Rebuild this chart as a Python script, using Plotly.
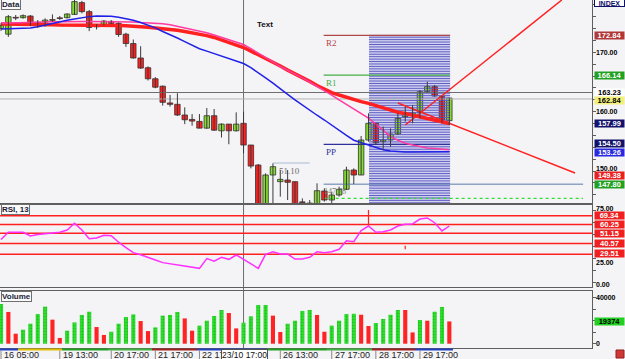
import numpy as np
import plotly.graph_objects as go

W, H = 625, 359

# ---------------- data ----------------
opens = [174.0, 173.05, 175.82, 175.82, 176.10, 174.69, 175.08, 175.42, 175.71, 175.82,
         176.38, 178.36, 176.84, 174.29, 174.58, 175.20, 174.86, 173.05, 171.47, 169.04,
         167.40, 165.54, 164.29, 161.47, 161.24, 159.44, 158.70, 158.36, 157.23, 159.32,
         156.78, 157.91, 156.78, 158.04, 154.39, 151.02, 143.80, 149.34, 148.22, 148.50,
         148.22, 144.80, 144.60, 144.40, 146.65, 145.13, 145.97, 146.93, 150.18, 149.34,
         155.23, 158.04, 154.95, 155.23, 156.24, 159.16, 159.44, 159.83, 163.37, 164.21,
         162.53, 158.49]
highs = [174.9, 176.27, 176.27, 176.38, 176.27, 175.42, 175.71, 176.38, 176.10, 176.55,
         178.81, 178.65, 177.12, 174.75, 175.42, 175.42, 175.03, 173.28, 172.15, 171.02,
         167.63, 165.82, 164.41, 162.82, 163.11, 160.73, 159.60, 159.60, 160.62, 160.45,
         158.02, 157.91, 159.89, 160.00, 154.39, 151.20, 149.62, 151.30, 150.18, 150.18,
         148.22, 145.41, 145.13, 147.94, 147.10, 146.53, 147.38, 150.74, 150.46, 155.91,
         159.72, 158.04, 157.48, 157.20, 159.72, 160.84, 161.12, 163.65, 165.05, 164.49,
         162.64, 162.25]
lows = [173.6, 172.60, 175.42, 175.65, 174.41, 174.12, 174.29, 175.14, 175.42, 175.71,
        176.27, 176.55, 173.56, 173.84, 174.52, 174.75, 172.60, 170.90, 168.93, 167.23,
        165.25, 163.95, 161.02, 160.85, 159.27, 157.91, 157.63, 157.20, 157.12, 156.78,
        155.65, 154.52, 156.67, 152.99, 150.46, 143.00, 143.50, 144.20, 145.69, 145.13,
        143.80, 144.20, 144.20, 144.20, 144.85, 144.57, 145.69, 146.81, 147.82, 149.34,
        154.95, 154.39, 153.55, 154.11, 156.07, 158.32, 158.04, 158.88, 163.26, 162.53,
        158.04, 157.76]
closes = [174.5, 175.99, 175.76, 176.16, 174.75, 175.03, 175.42, 175.38, 175.68, 176.44,
          178.53, 176.84, 174.18, 174.58, 175.25, 174.86, 172.99, 171.47, 169.04, 167.34,
          165.54, 164.12, 161.58, 161.24, 159.44, 158.64, 158.42, 157.23, 159.32, 156.89,
          157.91, 156.78, 157.91, 154.39, 150.85, 143.50, 149.34, 150.74, 148.61, 148.11,
          144.20, 144.70, 144.50, 146.70, 145.13, 145.97, 146.93, 150.18, 149.34, 155.23,
          158.04, 154.78, 155.23, 156.24, 158.88, 159.61, 159.83, 163.37, 164.21, 162.64,
          158.60, 162.30]

ma_blue = [173.9, 173.95, 174.0, 174.05, 174.1, 174.3, 174.6, 174.9, 175.15, 175.4,
           175.6, 175.85, 176.0, 176.1, 176.1, 176.05, 175.9, 175.7, 175.4, 175.0,
           174.6, 174.1, 173.5, 173.0, 172.4, 171.8, 171.2, 170.6, 170.2, 169.8,
           169.3, 168.9, 168.5, 168.1, 167.4, 166.6, 165.7, 164.8, 163.8, 162.9,
           162.0, 161.1, 160.2, 159.4, 158.6, 157.7, 156.8, 156.0, 155.2, 154.8,
           154.4, 154.0, 153.6, 153.4, 153.25, 153.2, 153.2, 153.2, 153.25, 153.3,
           153.3, 153.26]
ma_pink = [174.9, 174.95, 175.0, 175.0, 175.05, 175.1, 175.1, 175.15, 175.15, 175.2,
           175.2, 175.2, 175.2, 175.2, 175.2, 175.2, 175.15, 175.1, 175.1, 175.0,
           174.95, 174.85, 174.8, 174.65, 174.4, 174.1, 173.8, 173.6, 173.3, 172.9,
           172.5, 172.1, 171.7, 171.3, 170.6, 169.9, 169.2, 168.4, 167.6, 167.0,
           166.3, 165.7, 165.0, 164.3, 163.6, 162.8, 162.0, 161.2, 160.4, 159.6,
           158.9, 157.9, 156.8, 155.8, 155.2, 154.7, 154.4, 154.1, 153.9, 153.8,
           153.7, 153.6]
ma_red = [174.75, 174.75, 174.75, 174.7, 174.7, 174.7, 174.65, 174.65, 174.6, 174.6,
          174.6, 174.6, 174.6, 174.55, 174.55, 174.5, 174.5, 174.45, 174.4, 174.3,
          174.2, 174.1, 174.0, 173.85, 173.7, 173.5, 173.3, 173.1, 172.8, 172.5,
          172.1, 171.7, 171.25, 170.8, 170.2, 169.6, 169.0, 168.3, 167.7, 167.0,
          166.4, 165.8, 165.1, 164.4, 163.8, 163.2, 162.8, 162.4, 162.0, 161.7,
          161.4, 161.0, 160.6, 160.3, 159.9, 159.7, 159.4, 159.1, 158.8, 158.5,
          158.2, 158.0]

volumes = [34500, 27600, 8700, 12200, 17400, 25800, 32200, 20900, 5000, 11300,
           18500, 25000, 27800, 14500, 7600, 10400, 17400, 23200, 25500, 19700,
           11000, 14200, 24400, 25000, 27600, 22000, 11300, 15700, 20000, 24100,
           29300, 26700, 13300, 18300, 23800, 33700, 33700, 24400, 10200, 17400,
           20000, 28500, 29300, 25000, 10400, 15700, 20000, 25800, 26000, 25200,
           15400, 18000, 21500, 25200, 29300, 29300, 9800, 20600, 20000, 27800,
           31900, 19374]
volume_up = [1, 0, 0, 1, 1, 1, 1, 0, 0, 1,
             1, 1, 1, 0, 0, 1, 1, 1, 1, 0,
             0, 1, 1, 1, 1, 0, 0, 1, 1, 1,
             1, 0, 0, 1, 1, 1, 1, 0, 0, 1,
             1, 1, 1, 0, 0, 1, 1, 1, 1, 0,
             0, 1, 1, 1, 1, 0, 0, 1, 0, 1,
             1, 0]

rsi = [44.7, 52.2, 52.2, 52.2, 48.4, 50.0, 50.7, 51.2, 52.2, 54.6,
       61.5, 54.6, 45.6, 46.3, 49.2, 48.7, 42.0, 36.5, 31.2, 29.0,
       26.6, 23.7, 20.9, 19.6, 18.4, 17.3, 16.1, 15.0, 25.0, 22.3,
       26.4, 24.3, 28.8, 24.3, 20.0, 15.0, 29.5, 32.2, 29.8, 29.8,
       24.6, 24.6, 26.4, 32.2, 31.2, 32.2, 34.7, 43.5, 42.5, 53.9,
       58.7, 52.2, 52.8, 54.6, 58.7, 60.5, 60.8, 65.9, 67.0, 62.1,
       53.6, 58.7]
rsi_levels = [69.34, 60.25, 51.15, 40.57, 29.51]
rsi_marks_slot = [50, 55]
rsi_marks_lo = [58.7, 34.7]
rsi_marks_hi = [75.2, 38.4]

pivot_names = ["R2", "R1", "PP"]
pivot_values = [172.84, 166.14, 154.50]
pivot_colors = ["#b04848", "#44b044", "#30309a"]
pivot_start_slot = 43.9
box_slots = [50.07, 61.1]
box_prices = [144.46, 172.84]
s1_value = 147.80
s2_value = 145.42
level_end_slot = 79.2
minor_level = 151.36
minor_level_slots = [37.0, 42.0]

trend_up_x = [55.0, 76.3]
trend_up_y = [157.76, 178.8]
trend_dn_x = [54.0, 78.1]
trend_dn_y = [161.46, 149.68]

crosshair_slot = 33
crosshair_prices = [163.23, 162.14]

time_label_slots = [0, 8, 15, 21, 27, 38, 45, 51, 57]
time_labels = ["16 05:00", "19 13:00", "20 17:00", "21 17:00", "22 17",
               "26 13:00", "27 17:00", "28 17:00", "29 17:00"]
crosshair_time = "23/10 17:00"

day_strip_bounds = [-0.14, 2.31, 8.3, 14.56, 20.54, 26.67, 36.19, 44.35, 50.48, 56.33, 61.5]
day_strip_colors = ["#2040c0", "#e0c000", "#20a020", "#40b040", "#a02020",
                    "#2040c0", "#20a020", "#40b040", "#a02020", "#2040c0"]

# price-axis labels: (value, text, bg, fg, shift px)
price_labels = [
    (172.84, "172.84", "#b03838", "white", 0),
    (170.00, "170.00", None, "black", 0),
    (166.14, "166.14", "#22a022", "white", 0),
    (163.23, "163.23", "white", "black", 0.5),
    (162.84, "162.84", "#f2f07a", "black", -5.5),
    (160.00, "160.00", None, "black", 0),
    (157.99, "157.99", "#12126a", "white", 0),
    (154.50, "154.50", "#12126a", "white", 0.7),
    (153.26, "153.26", "#2828e0", "white", -0.7),
    (150.00, "150.00", None, "black", 2.5),
    (149.38, "149.38", "#e82020", "white", -1),
    (147.80, "147.80", "#22a022", "white", 0),
]
rsi_labels = [
    (75.0, "75.00", None, "black", 1.5),
    (69.34, "69.34", "#f02020", "white", 0),
    (60.25, "60.25", "#f02020", "white", 0),
    (51.15, "51.15", "#f02020", "white", 0),
    (40.57, "40.57", "#f02020", "white", 0),
    (29.51, "29.51", "#f02020", "white", 0.5),
    (25.0, "25.00", None, "black", -3.5),
    (0.0, "0.00", None, "black", -2),
]
vol_labels = [
    (40000, "40000", None, "black", 0),
    (19374, "19374", "#22d022", "black", 0),
    (0, "0", None, "black", 0),
]

# ---------------- layout geometry ----------------
def py(px):
    return 1 - px / H

X_RANGE = [-0.136, 80.41]
X_DOM = [0, 592 / W]
MAIN_DOM = [py(204), 1.0]
RSI_DOM = [py(287), py(204)]
VOL_DOM = [py(348), py(291)]
MAIN_RANGE = [144.46, 178.80]
RSI_RANGE = [-4.24, 81.4]
VOL_RANGE = [-3740, 45830]

BG = "#f4f3f6"
FONT = "Liberation Sans"
n = len(opens)
slots = list(range(n))

fig = go.Figure()

# hatched pivot box
hx, hy = [], []
for yv in np.arange(box_prices[0] + 0.2, box_prices[1], 0.41):
    hx += [box_slots[0], box_slots[1], None]
    hy += [yv, yv, None]
fig.add_shape(type="rect", xref="x", yref="y", x0=box_slots[0], x1=box_slots[1],
              y0=box_prices[0], y1=box_prices[1], fillcolor="#d2d2f0",
              line=dict(width=0), layer="below")
fig.add_trace(go.Scatter(x=hx, y=hy, mode="lines", line=dict(color="#5e5ec4", width=1),
                         hoverinfo="skip", xaxis="x", yaxis="y"))
fig.add_trace(go.Scatter(x=[box_slots[0], box_slots[1]], y=[box_prices[1]] * 2, mode="lines",
                         line=dict(color="#30308a", width=1), xaxis="x", yaxis="y"))

# pivot levels
for name, val, col in zip(pivot_names, pivot_values, pivot_colors):
    fig.add_trace(go.Scatter(x=[pivot_start_slot, box_slots[1]], y=[val, val], mode="lines",
                             line=dict(color=col, width=1.2), xaxis="x", yaxis="y"))
    fig.add_annotation(x=pivot_start_slot, y=val, xref="x", yref="y", text=name,
                       showarrow=False, xanchor="left", yanchor="top", yshift=-1,
                       font=dict(family="Liberation Serif", size=9, color=col))
fig.add_trace(go.Scatter(x=[pivot_start_slot, level_end_slot], y=[s1_value] * 2, mode="lines",
                         line=dict(color="#5c7cac", width=1), xaxis="x", yaxis="y"))
fig.add_trace(go.Scatter(x=[pivot_start_slot, level_end_slot], y=[s2_value] * 2, mode="lines",
                         line=dict(color="#30e030", width=1.2, dash="dot"), xaxis="x", yaxis="y"))
fig.add_trace(go.Scatter(x=minor_level_slots, y=[minor_level] * 2, mode="lines",
                         line=dict(color="#a8bcd4", width=1), xaxis="x", yaxis="y"))
fig.add_annotation(x=minor_level_slots[0] + 0.5, y=minor_level, xref="x", yref="y", text="51.10",
                   showarrow=False, xanchor="left", yanchor="top", yshift=-1,
                   font=dict(family="Liberation Serif", size=9, color="#707070"))
fig.add_annotation(x=pivot_start_slot - 0.2, y=s1_value, xref="x", yref="y", text="147.78",
                   showarrow=False, xanchor="left", yanchor="top", yshift=-1,
                   font=dict(family="Liberation Serif", size=8, color="#708070"))

# crosshair horizontal lines
fig.add_trace(go.Scatter(x=X_RANGE, y=[crosshair_prices[0]] * 2, mode="lines",
                         line=dict(color="#6e6e6e", width=1), xaxis="x", yaxis="y"))
fig.add_trace(go.Scatter(x=X_RANGE, y=[crosshair_prices[1]] * 2, mode="lines",
                         line=dict(color="#b4b4b4", width=1), xaxis="x", yaxis="y"))

# moving averages
fig.add_trace(go.Scatter(x=slots, y=ma_red, mode="lines", line=dict(color="#ff2020", width=3.5),
                         xaxis="x", yaxis="y"))
fig.add_trace(go.Scatter(x=slots, y=ma_pink, mode="lines", line=dict(color="#ff3aa0", width=1.5),
                         xaxis="x", yaxis="y"))
fig.add_trace(go.Scatter(x=slots, y=ma_blue, mode="lines", line=dict(color="#2020e8", width=1.5),
                         xaxis="x", yaxis="y"))

# trend lines
fig.add_trace(go.Scatter(x=trend_up_x, y=trend_up_y, mode="lines",
                         line=dict(color="#ff2020", width=1.5), xaxis="x", yaxis="y"))
fig.add_trace(go.Scatter(x=trend_dn_x, y=trend_dn_y, mode="lines",
                         line=dict(color="#ff2020", width=1.5), xaxis="x", yaxis="y"))

# candles: wicks
wx, wy = [], []
for i in slots:
    wx += [i, i, None]
    wy += [lows[i], highs[i], None]
fig.add_trace(go.Scatter(x=wx, y=wy, mode="lines", line=dict(color="#3a3a3a", width=1),
                         xaxis="x", yaxis="y"))
# candles: bodies
for up, col in [(True, "#86dc30"), (False, "#ff2020")]:
    idx = [i for i in slots if (closes[i] >= opens[i]) == up]
    fig.add_trace(go.Bar(x=idx,
                         y=[max(abs(closes[i] - opens[i]), 0.12) for i in idx],
                         base=[min(opens[i], closes[i]) for i in idx],
                         width=0.74, marker=dict(color=col, line=dict(color="#303030", width=0.8)),
                         xaxis="x", yaxis="y"))

# RSI
for lv in rsi_levels:
    fig.add_trace(go.Scatter(x=X_RANGE, y=[lv, lv], mode="lines",
                             line=dict(color="#ff2020", width=1.5), xaxis="x2", yaxis="y2"))
for s, lo, hi in zip(rsi_marks_slot, rsi_marks_lo, rsi_marks_hi):
    fig.add_trace(go.Scatter(x=[s, s], y=[lo, hi], mode="lines",
                             line=dict(color="#ff2020", width=1.2), xaxis="x2", yaxis="y2"))
fig.add_trace(go.Scatter(x=slots, y=rsi, mode="lines", line=dict(color="#ff30ff", width=1.5),
                         xaxis="x2", yaxis="y2"))

# Volume
for up, col, fg in [(1, "#2ee02e", "#129a12"), (0, "#ff2424", None)]:
    idx = [i for i in slots if volume_up[i] == up]
    marker = dict(color=col, line=dict(width=0))
    if fg:
        marker["pattern"] = dict(shape=".", fgcolor=fg, size=3, solidity=0.35)
    fig.add_trace(go.Bar(x=idx, y=[volumes[i] for i in idx], width=0.56, marker=marker,
                         xaxis="x3", yaxis="y3"))

# crosshair vertical
fig.add_shape(type="line", xref="x", yref="paper", x0=crosshair_slot, x1=crosshair_slot,
              y0=py(348), y1=1, line=dict(color="#6e6e6e", width=1), layer="below")

# day strip along the time axis
for k in range(len(day_strip_colors)):
    fig.add_shape(type="rect", xref="x3", yref="paper", x0=day_strip_bounds[k],
                  x1=day_strip_bounds[k + 1], y0=py(350.5), y1=py(348.5),
                  fillcolor=day_strip_colors[k], line=dict(width=0))

# time labels
for s, t in zip(time_label_slots, time_labels):
    fig.add_shape(type="line", xref="x3", yref="paper", x0=s, x1=s, y0=py(359), y1=py(350.5),
                  line=dict(color="#8a8a8a", width=1))
    fig.add_annotation(x=s, y=py(355), xref="x3", yref="paper", text=t, showarrow=False,
                       xanchor="left", yanchor="middle", xshift=1,
                       font=dict(family=FONT, size=9, color="#222222"))
fig.add_annotation(x=crosshair_slot, y=py(354.5), xref="x3", yref="paper", text=crosshair_time,
                   showarrow=False, xanchor="center", yanchor="middle", bgcolor="white",
                   bordercolor="#505050", borderwidth=1, borderpad=0, xshift=1,
                   font=dict(family=FONT, size=8.5, color="#111111"))

# axis value labels
def add_axis_labels(items, yref):
    for val, txt, bg, fg, shift in items:
        kw = {}
        size = 7.5
        if bg:
            kw = dict(bgcolor=bg, width=29, height=6.5, borderpad=0)
        else:
            size = 7
        fig.add_annotation(x=594 / W, y=val, xref="paper", yref=yref, text="<b>" + txt + "</b>",
                           showarrow=False, xanchor="left", yanchor="middle", yshift=shift,
                           font=dict(family=FONT, size=size, color=fg), align="center", **kw)

add_axis_labels(price_labels, "y")
add_axis_labels(rsi_labels, "y2")
add_axis_labels(vol_labels, "y3")

fig.add_annotation(x=594 / W, y=py(3.5), xref="paper", yref="paper", text="<b>INDEX</b>",
                   showarrow=False, xanchor="left", yanchor="middle", width=29, height=6,
                   bgcolor="white", bordercolor="#10106a", borderwidth=1, borderpad=0,
                   font=dict(family=FONT, size=7, color="#10106a"))

# panel titles
for txt, ypx in [("Data", 4), ("RSI, 13", 209.5), ("Volume", 296)]:
    fig.add_annotation(x=0.002, y=py(ypx), xref="paper", yref="paper", text="<b>" + txt + "</b>",
                       showarrow=False, xanchor="left", yanchor="middle", bgcolor="#fafafa",
                       bordercolor="#707070", borderwidth=1, borderpad=0,
                       font=dict(family=FONT, size=8, color="#1a2438"))
fig.add_annotation(x=265 / W, y=py(18), xref="paper", yref="paper", text="<b>Text</b>",
                   showarrow=False, font=dict(family=FONT, size=8, color="#111111"))

# bottom-right icon
fig.add_shape(type="rect", xref="paper", yref="paper", x0=616 / W, x1=624 / W,
              y0=py(358), y1=py(350), fillcolor="#d03838", line=dict(color="#902020", width=1))

axis_common = dict(showgrid=False, zeroline=False, showline=True, mirror=True,
                   linecolor="#5e5e5e", linewidth=1)
fig.update_layout(
    width=W, height=H, margin=dict(l=0, r=0, t=0, b=0),
    paper_bgcolor=BG, plot_bgcolor=BG, showlegend=False, barmode="overlay",
    xaxis=dict(domain=X_DOM, range=X_RANGE, showticklabels=False, ticks="", anchor="y", **axis_common),
    xaxis2=dict(domain=X_DOM, range=X_RANGE, showticklabels=False, ticks="", anchor="y2", **axis_common),
    xaxis3=dict(domain=X_DOM, range=X_RANGE, showticklabels=False, ticks="", anchor="y3", **axis_common),
    yaxis=dict(domain=MAIN_DOM, range=MAIN_RANGE, side="right", anchor="x", ticks="outside",
               ticklen=3, tickcolor="#5e5e5e", dtick=2, showticklabels=False, **axis_common),
    yaxis2=dict(domain=RSI_DOM, range=RSI_RANGE, side="right", anchor="x2", ticks="outside",
                ticklen=3, tickcolor="#5e5e5e", dtick=12.5, showticklabels=False, **axis_common),
    yaxis3=dict(domain=VOL_DOM, range=VOL_RANGE, side="right", anchor="x3", ticks="outside",
                ticklen=3, tickcolor="#5e5e5e", dtick=10000, showticklabels=False, **axis_common),
)

fig.write_html("out.html")
